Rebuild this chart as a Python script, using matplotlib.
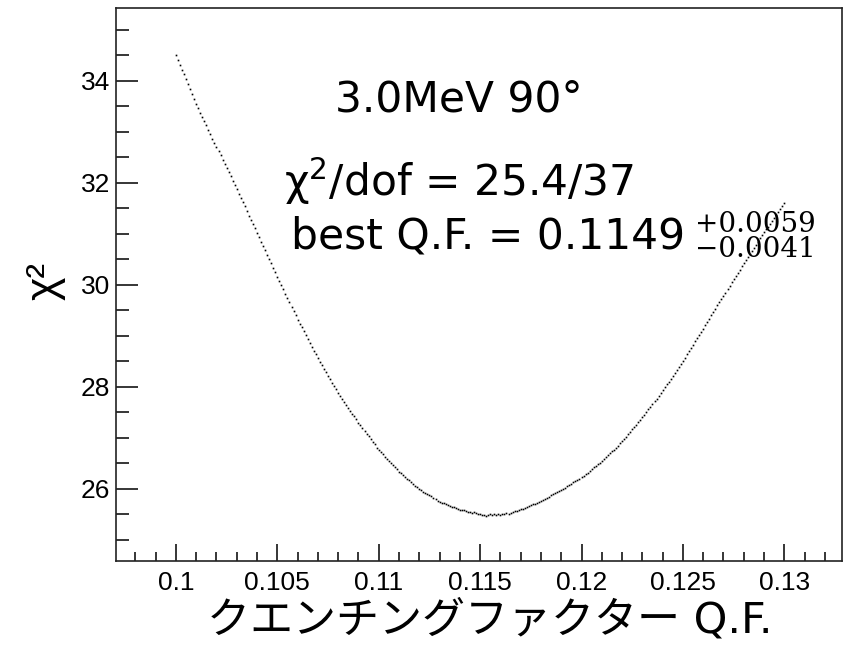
import numpy as np
import matplotlib
matplotlib.use("Agg")
import matplotlib.pyplot as plt
from matplotlib.ticker import MultipleLocator, FixedLocator

# skan Q.F. od 0.1 co 0.0001
qf_start = 0.1
qf_step = 0.0001

# chi2 (301 punktow)
chi2 = [
    34.51, 34.41, 34.32, 34.22, 34.13, 34.03, 33.93, 33.84, 33.74, 33.65,
    33.55, 33.47, 33.38, 33.30, 33.21, 33.13, 33.04, 32.96, 32.87, 32.79,
    32.70, 32.62, 32.54, 32.45, 32.37, 32.29, 32.21, 32.13, 32.04, 31.96,
    31.88, 31.79, 31.71, 31.62, 31.54, 31.45, 31.36, 31.28, 31.19, 31.11,
    31.02, 30.93, 30.85, 30.76, 30.68, 30.59, 30.50, 30.42, 30.33, 30.25,
    30.16, 30.08, 29.99, 29.91, 29.82, 29.74, 29.66, 29.57, 29.49, 29.40,
    29.32, 29.24, 29.17, 29.09, 29.02, 28.94, 28.86, 28.79, 28.71, 28.64,
    28.56, 28.49, 28.42, 28.36, 28.29, 28.22, 28.15, 28.08, 28.02, 27.95,
    27.88, 27.82, 27.76, 27.71, 27.65, 27.59, 27.53, 27.47, 27.42, 27.36,
    27.30, 27.25, 27.19, 27.14, 27.08, 27.03, 26.98, 26.92, 26.87, 26.81,
    26.76, 26.72, 26.68, 26.63, 26.59, 26.55, 26.51, 26.47, 26.42, 26.38,
    26.34, 26.31, 26.27, 26.24, 26.20, 26.17, 26.13, 26.10, 26.06, 26.03,
    25.99, 25.97, 25.94, 25.92, 25.89, 25.87, 25.85, 25.82, 25.80, 25.77,
    25.75, 25.73, 25.72, 25.70, 25.69, 25.67, 25.65, 25.64, 25.62, 25.61,
    25.59, 25.58, 25.58, 25.56, 25.55, 25.55, 25.53, 25.54, 25.52, 25.51,
    25.50, 25.48, 25.49, 25.47, 25.49, 25.50, 25.48, 25.50, 25.49, 25.51,
    25.49, 25.51, 25.50, 25.52, 25.51, 25.53, 25.55, 25.57, 25.56, 25.58,
    25.60, 25.61, 25.63, 25.65, 25.66, 25.68, 25.70, 25.71, 25.73, 25.74,
    25.76, 25.78, 25.80, 25.82, 25.84, 25.87, 25.89, 25.91, 25.93, 25.95,
    25.97, 26.00, 26.02, 26.05, 26.07, 26.10, 26.13, 26.15, 26.18, 26.20,
    26.23, 26.26, 26.29, 26.32, 26.35, 26.39, 26.42, 26.45, 26.48, 26.51,
    26.54, 26.58, 26.62, 26.66, 26.70, 26.74, 26.77, 26.81, 26.85, 26.89,
    26.93, 26.98, 27.02, 27.07, 27.12, 27.17, 27.21, 27.26, 27.31, 27.35,
    27.40, 27.45, 27.51, 27.56, 27.61, 27.67, 27.72, 27.77, 27.82, 27.88,
    27.93, 27.99, 28.05, 28.10, 28.16, 28.22, 28.28, 28.34, 28.39, 28.45,
    28.51, 28.57, 28.64, 28.70, 28.76, 28.83, 28.89, 28.95, 29.01, 29.08,
    29.14, 29.21, 29.27, 29.34, 29.40, 29.47, 29.53, 29.60, 29.66, 29.73,
    29.79, 29.85, 29.92, 29.98, 30.05, 30.11, 30.17, 30.24, 30.30, 30.37,
    30.43, 30.49, 30.55, 30.61, 30.67, 30.73, 30.79, 30.85, 30.91, 30.97,
    31.03, 31.09, 31.14, 31.20, 31.26, 31.32, 31.37, 31.43, 31.49, 31.54,
    31.60,
]
qf = np.round(qf_start + qf_step * np.arange(len(chi2)), 4)

x_ticks = [0.1, 0.105, 0.11, 0.115, 0.12, 0.125, 0.13]
x_tick_labels = ["0.1", "0.105", "0.11", "0.115", "0.12", "0.125", "0.13"]
y_ticks = [26, 28, 30, 32, 34]

title_txt = "3.0MeV 90°"
fit_txt = "χ$^{2}$/dof = 25.4/37"
best_txt = "best Q.F. = 0.1149"
err_txt = "+0.0059\n\u22120.0041"   # blad gorny i dolny

plt.rcParams['mathtext.fontset'] = 'dejavusans'

fig = plt.figure(figsize=(8.46, 6.47), dpi=100)
ax = fig.add_axes([115.7 / 846, 86 / 647, 726 / 846, 553 / 647])

ax.plot(qf, chi2, 's', ms=1.2, mew=0, color='black')  # punkty chi2

ax.set_xlim(0.09703, 0.13283)
ax.set_ylim(24.585, 35.43)

ax.xaxis.set_major_locator(FixedLocator(x_ticks))
ax.set_xticklabels(x_tick_labels)
ax.xaxis.set_minor_locator(MultipleLocator(0.001))
ax.yaxis.set_major_locator(FixedLocator(y_ticks))
ax.set_yticklabels([str(v) for v in y_ticks])
ax.yaxis.set_minor_locator(MultipleLocator(0.5))

ax.tick_params(axis='both', which='both', direction='in', top=False, right=False,
               colors='black', width=1.1)
ax.tick_params(axis='y', which='major', length=16, pad=4, labelsize=19)
ax.tick_params(axis='y', which='minor', length=9)
ax.tick_params(axis='x', which='major', length=12, pad=7, labelsize=19)
ax.tick_params(axis='x', which='minor', length=6.7)
for lab in ax.get_xticklabels() + ax.get_yticklabels():
    lab.set_fontfamily('Liberation Sans')

for s in ax.spines.values():
    s.set_linewidth(1.2)
    s.set_color('#222222')

# opisy osi
ax.text(-0.0974, 0.506, "χ²", transform=ax.transAxes, rotation=90,
        ha='center', va='center', fontsize=32, family=['Liberation Sans', 'DejaVu Sans'])
ax.text(0.5156, -0.108, "クエンチングファクター Q.F.", transform=ax.transAxes,
        ha='center', va='center', fontsize=31, family=['DejaVu Sans', 'Noto Sans CJK JP'])

# napisy w ramce
ax.text(0.3015, 0.8125, title_txt, transform=ax.transAxes, fontsize=30.5,
        va='baseline', family='DejaVu Sans')
ax.text(0.2320, 0.660, fit_txt, transform=ax.transAxes, fontsize=30.5,
        va='baseline', family='DejaVu Sans')
ax.text(0.2421, 0.5655, best_txt, transform=ax.transAxes, fontsize=30.5,
        va='baseline', family='DejaVu Sans')
ax.text(0.798, 0.586, err_txt, transform=ax.transAxes, fontsize=20,
        va='center', ha='left', linespacing=0.9, family='DejaVu Serif')

plt.savefig("out.png", dpi=100)
